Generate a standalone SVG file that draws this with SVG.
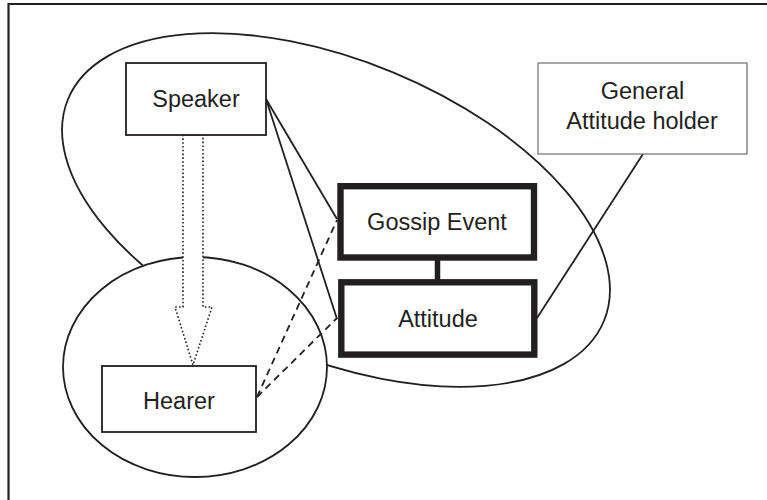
<svg xmlns="http://www.w3.org/2000/svg" width="767" height="500" viewBox="0 0 767 500">
<style>
.ln{stroke:#231f20;stroke-width:1.8;fill:none}
.box{fill:#fff;stroke:#231f20;stroke-width:1.8}
.thick{fill:#fff;stroke:#231f20;stroke-width:6.4}
.gbox{fill:#fff;stroke:#6d6e71;stroke-width:1.2}
.dash{stroke:#231f20;stroke-width:1.8;fill:none;stroke-dasharray:7 5}
.txt{font-family:"Liberation Sans",Arial,sans-serif;font-size:23.5px;fill:#231f20;text-anchor:middle}
</style>
<rect width="767" height="500" fill="#fff"/>
<g id="frame">
<path d="M8.5,500 V4 H767" class="ln" style="stroke-width:2.2"/>
</g>
<g id="groups">
<ellipse cx="336" cy="210" rx="290" ry="149" transform="rotate(22.5 336 210)" class="ln"/>
<ellipse cx="195" cy="367" rx="132" ry="110" fill="#fff" stroke="#231f20" stroke-width="1.8"/>
</g>
<g id="connectors">
<line x1="266" y1="99" x2="337" y2="219" class="ln"/>
<line x1="266" y1="99" x2="337" y2="319" class="ln"/>
<line x1="257" y1="397" x2="337" y2="220" class="dash"/>
<line x1="257" y1="397" x2="337" y2="318" class="dash"/>
<line x1="643" y1="154" x2="537" y2="318" class="ln"/>
<line x1="437.5" y1="259" x2="437.5" y2="281" stroke="#231f20" stroke-width="5.5"/>
<polygon points="183,135 203,135 203,307 212,307 193,365 175,307 183,307" fill="#fff" stroke="#231f20" stroke-width="1.6" stroke-dasharray="1.6 2.2"/>
</g>
<g id="speaker">
<rect x="126" y="63" width="140" height="72" class="box"/>
<text x="196" y="107" class="txt">Speaker</text>
</g>
<g id="hearer">
<rect x="102" y="366" width="154" height="66" class="box"/>
<text x="179" y="409" class="txt">Hearer</text>
</g>
<g id="gossip">
<rect x="340.5" y="186.2" width="193.5" height="71.3" class="thick"/>
<text x="437" y="230" class="txt">Gossip Event</text>
</g>
<g id="attitude">
<rect x="341.3" y="282.3" width="193" height="72.3" class="thick"/>
<text x="438" y="327" class="txt">Attitude</text>
</g>
<g id="general">
<rect x="538" y="63" width="209" height="91" class="gbox"/>
<text x="642.5" y="99" class="txt">General</text>
<text x="642" y="129" class="txt">Attitude holder</text>
</g>
</svg>
